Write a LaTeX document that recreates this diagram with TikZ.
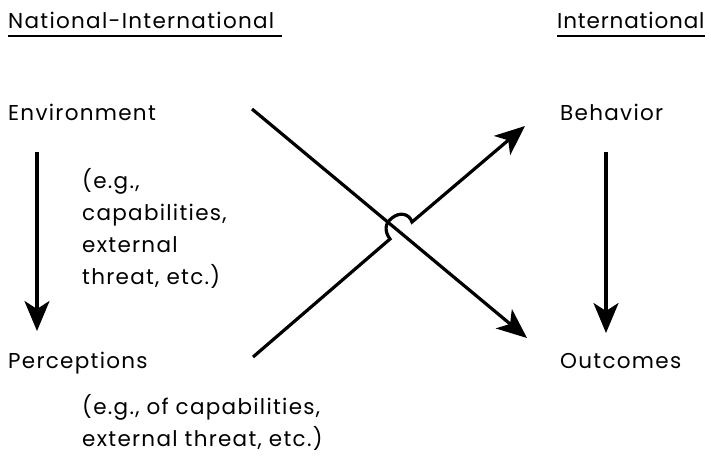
\documentclass[tikz,border=0pt]{standalone}
\usepackage{fontspec}
\setmainfont{Poppins}[LetterSpace=6]
\usetikzlibrary{arrows.meta}
\begin{document}
\begin{tikzpicture}[x=1pt,y=-1pt,
  lbl/.style={anchor=base west,inner sep=0pt,font=\fontsize{21.5}{31.7}\selectfont,align=left},
  conn/.style={line width=3.2pt,-{Stealth[length=30pt,width=25pt,inset=8pt]}},
  uline/.style={line width=1.8pt}]
\useasboundingbox (0,0) rectangle (711,467);
\node[lbl] (hl) at (8,28) {National-International};
\node[lbl] (hr) at (557,28) {\addfontfeatures{LetterSpace=4}International};
\draw[uline] (8,36) coordinate (ul1) -- (282,36) coordinate (ul1e);
\draw[uline] (557,36) coordinate (ul2) -- (705,36) coordinate (ul2e);
\node[lbl] (env) at (8,120) {Environment};
\node[lbl] (eg1) at (82,284) {(e.g.,\\capabilities,\\external\\threat, etc.)};
\node[lbl] (per) at (8,368) {Perceptions};
\node[lbl] (eg2) at (82,446) {(e.g., of capabilities,\\external threat, etc.)};
\node[lbl] (beh) at (560,120) {Behavior};
\node[lbl] (out) at (560,368) {Outcomes};
\coordinate (a1s) at (37,152);
\coordinate (a1e) at (37,331);
\coordinate (a2s) at (606,152);
\coordinate (a2e) at (606,333);
\coordinate (d1s) at (252,109);
\coordinate (d1e) at (527,338);
\coordinate (d2s) at (253,357);
\coordinate (h1) at (390,239);
\coordinate (h2) at (412,222);
\coordinate (d2e) at (525,126);
\draw[conn] (a1s) -- (a1e);
\draw[conn] (a2s) -- (a2e);
\draw[conn] (d1s) -- (d1e);
\draw[conn] (d2s) -- (h1) .. controls (384,231) and (385,223) .. (392,218) .. controls (399,212) and (409,213) .. (h2) -- (d2e);
\end{tikzpicture}
\end{document}
